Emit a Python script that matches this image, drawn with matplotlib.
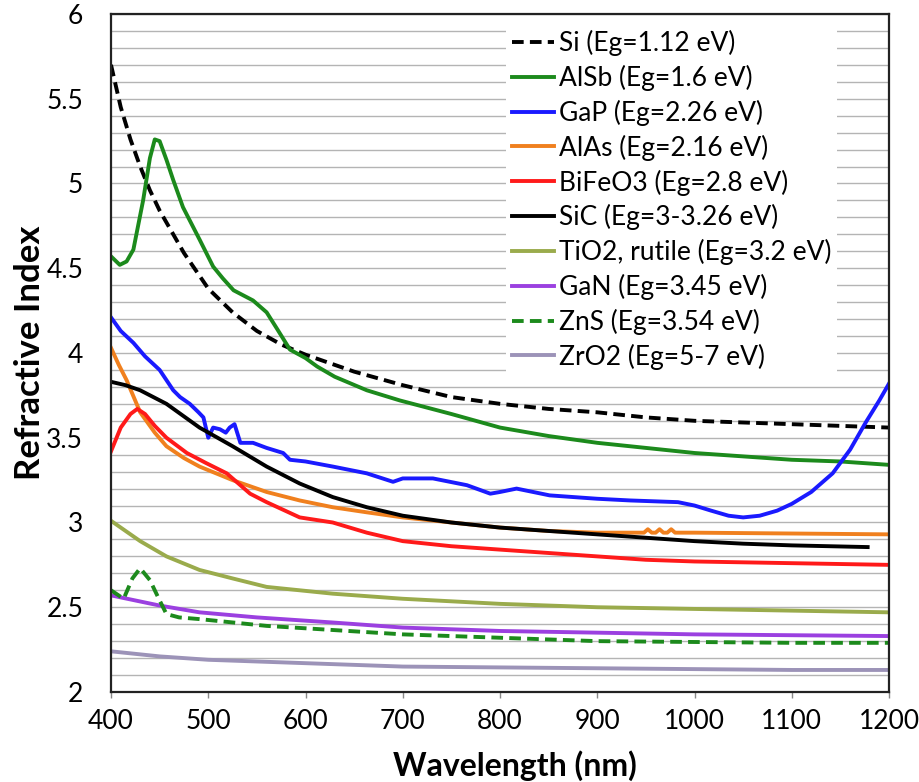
import numpy as np
import matplotlib
matplotlib.use("Agg")
from matplotlib import pyplot as plt
from matplotlib.ticker import MultipleLocator

plt.rcParams['font.family'] = ['Lato', 'DejaVu Sans']

# --- data (wavelength nm, refractive index) ---
si_wl = [400, 410, 420, 430, 440, 450, 475, 500, 525, 550, 575, 600, 650, 700, 750, 800,
         850, 900, 950, 1000, 1050, 1100, 1150, 1200]
si_n = [5.70, 5.45, 5.26, 5.10, 4.96, 4.84, 4.59, 4.38, 4.24, 4.13, 4.05, 3.99, 3.89, 3.81,
        3.74, 3.70, 3.67, 3.65, 3.62, 3.60, 3.59, 3.58, 3.57, 3.56]

alsb_wl = [400, 409, 416, 423, 433, 440, 445, 450, 457, 464, 474, 491, 505, 515, 526, 546,
           560, 571, 584, 600, 612, 630, 663, 697, 750, 800, 850, 900, 950, 1000, 1050,
           1100, 1150, 1200]
alsb_n = [4.57, 4.52, 4.54, 4.61, 4.90, 5.15, 5.26, 5.25, 5.14, 5.02, 4.86, 4.67, 4.51,
          4.44, 4.37, 4.31, 4.24, 4.14, 4.02, 3.97, 3.92, 3.86, 3.78, 3.72, 3.64, 3.56,
          3.51, 3.47, 3.44, 3.41, 3.39, 3.37, 3.36, 3.34]

gap_wl = [400, 410, 423, 435, 450, 464, 471, 481, 490, 495, 500, 505, 512, 518, 522, 527,
          533, 546, 560, 577, 584, 600, 628, 663, 690, 700, 731, 766, 790, 800, 817, 851,
          900, 934, 983, 1000, 1017, 1035, 1050, 1067, 1085, 1100, 1120, 1142, 1160, 1176,
          1190, 1200]
gap_n = [4.21, 4.13, 4.06, 3.98, 3.90, 3.78, 3.74, 3.70, 3.65, 3.62, 3.50, 3.56, 3.55,
         3.53, 3.56, 3.58, 3.47, 3.47, 3.44, 3.41, 3.37, 3.36, 3.33, 3.29, 3.24, 3.26,
         3.26, 3.22, 3.17, 3.18, 3.20, 3.16, 3.14, 3.13, 3.12, 3.10, 3.07, 3.04, 3.03,
         3.04, 3.07, 3.11, 3.18, 3.29, 3.43, 3.59, 3.72, 3.82]

alas_wl = [400, 408, 416, 430, 445, 457, 475, 491, 525, 560, 594, 628, 663, 700, 750, 800,
           850, 900, 948, 952, 956, 960, 964, 968, 972, 976, 980, 984, 1000, 1100, 1200]
alas_n = [4.03, 3.93, 3.84, 3.65, 3.53, 3.45, 3.38, 3.33, 3.25, 3.18, 3.13, 3.09, 3.06,
          3.03, 3.00, 2.97, 2.95, 2.94, 2.94, 2.96, 2.94, 2.94, 2.96, 2.94, 2.94, 2.96,
          2.94, 2.94, 2.94, 2.935, 2.93]

bfo_wl = [400, 410, 420, 427, 435, 445, 457, 478, 498, 519, 543, 560, 594, 628, 663, 700,
          750, 800, 850, 900, 950, 1000, 1100, 1200]
bfo_n = [3.42, 3.56, 3.64, 3.67, 3.64, 3.57, 3.50, 3.41, 3.35, 3.29, 3.17, 3.12, 3.03,
         3.00, 2.94, 2.89, 2.86, 2.84, 2.82, 2.80, 2.78, 2.77, 2.76, 2.75]

sic_wl = [400, 415, 430, 457, 491, 525, 560, 594, 628, 663, 700, 750, 800, 850, 900, 950,
          1000, 1050, 1100, 1178]
sic_n = [3.83, 3.81, 3.78, 3.70, 3.56, 3.45, 3.33, 3.23, 3.15, 3.09, 3.04, 3.00, 2.97,
         2.95, 2.93, 2.91, 2.89, 2.875, 2.865, 2.855]

tio2_wl = [400, 430, 457, 491, 525, 560, 628, 700, 800, 900, 1000, 1100, 1200]
tio2_n = [3.01, 2.89, 2.80, 2.72, 2.67, 2.62, 2.58, 2.55, 2.52, 2.50, 2.49, 2.48, 2.47]

gan_wl = [400, 450, 491, 550, 628, 700, 800, 900, 1000, 1100, 1200]
gan_n = [2.57, 2.51, 2.47, 2.44, 2.41, 2.38, 2.36, 2.35, 2.34, 2.335, 2.33]

zns_wl = [400, 413, 422, 430, 440, 450, 457, 470, 491, 560, 700, 800, 900, 1000, 1100, 1200]
zns_n = [2.60, 2.55, 2.67, 2.73, 2.66, 2.54, 2.46, 2.44, 2.43, 2.39, 2.34, 2.32, 2.30,
         2.295, 2.29, 2.29]

zro2_wl = [400, 450, 500, 600, 700, 800, 900, 1000, 1100, 1200]
zro2_n = [2.24, 2.21, 2.19, 2.17, 2.15, 2.145, 2.14, 2.135, 2.13, 2.13]

dash = (0, (3, 1.6))
series = [
    ("Si (Eg=1.12 eV)", si_wl, si_n, "#000000", dash),
    ("AlSb (Eg=1.6 eV)", alsb_wl, alsb_n, "#1c8a1c", "-"),
    ("GaP (Eg=2.26 eV)", gap_wl, gap_n, "#1a1aff", "-"),
    ("AlAs (Eg=2.16 eV)", alas_wl, alas_n, "#f0801e", "-"),
    ("BiFeO3 (Eg=2.8 eV)", bfo_wl, bfo_n, "#ff1a1a", "-"),
    ("SiC (Eg=3-3.26 eV)", sic_wl, sic_n, "#000000", "-"),
    ("TiO2, rutile (Eg=3.2 eV)", tio2_wl, tio2_n, "#9aab4c", "-"),
    ("GaN (Eg=3.45 eV)", gan_wl, gan_n, "#9b40e0", "-"),
    ("ZnS (Eg=3.54 eV)", zns_wl, zns_n, "#1c8a1c", dash),
    ("ZrO2 (Eg=5-7 eV)", zro2_wl, zro2_n, "#9c93b8", "-"),
]

fig = plt.figure(figsize=(9.19, 7.82), dpi=100)
ax = fig.add_axes([0.1208, 0.1151, 0.8466, 0.867])

for label, wl, n, color, ls in series:
    ax.plot(wl, n, color=color, linestyle=ls, linewidth=2.8, label=label)

ax.set_xlim(400, 1200)
ax.set_ylim(2, 6)
ax.xaxis.set_major_locator(MultipleLocator(100))
ax.yaxis.set_major_locator(MultipleLocator(0.5))
ax.yaxis.set_minor_locator(MultipleLocator(0.1))
ax.yaxis.set_major_formatter(plt.FuncFormatter(lambda v, p: f"{v:g}"))
ax.grid(True, axis='y', which='both', color='#b4b4b4', linewidth=1.0)
ax.set_axisbelow(True)

ax.tick_params(axis='x', which='major', length=4, width=1, color='#888888',
               labelsize=19, pad=8)
ax.tick_params(axis='y', which='both', length=0, labelsize=19, pad=20)
for side in ax.spines.values():
    side.set_color('#222222')
    side.set_linewidth(1.6)

ax.set_xlabel("Wavelength (nm)", fontsize=23, fontweight='bold')
ax.xaxis.set_label_coords(0.519, -0.086)
ax.set_ylabel("Refractive Index", fontsize=25, fontweight='bold')
ax.yaxis.set_label_coords(-0.084, 0.5)

leg = ax.legend(loc='upper left', bbox_to_anchor=(0.508, 0.984), fontsize=19,
                frameon=True, framealpha=1, edgecolor='none', fancybox=False,
                handlelength=1.6, handletextpad=0.2, labelspacing=0.33,
                borderpad=0.2, borderaxespad=0)

fig.savefig("out.png", dpi=100)
